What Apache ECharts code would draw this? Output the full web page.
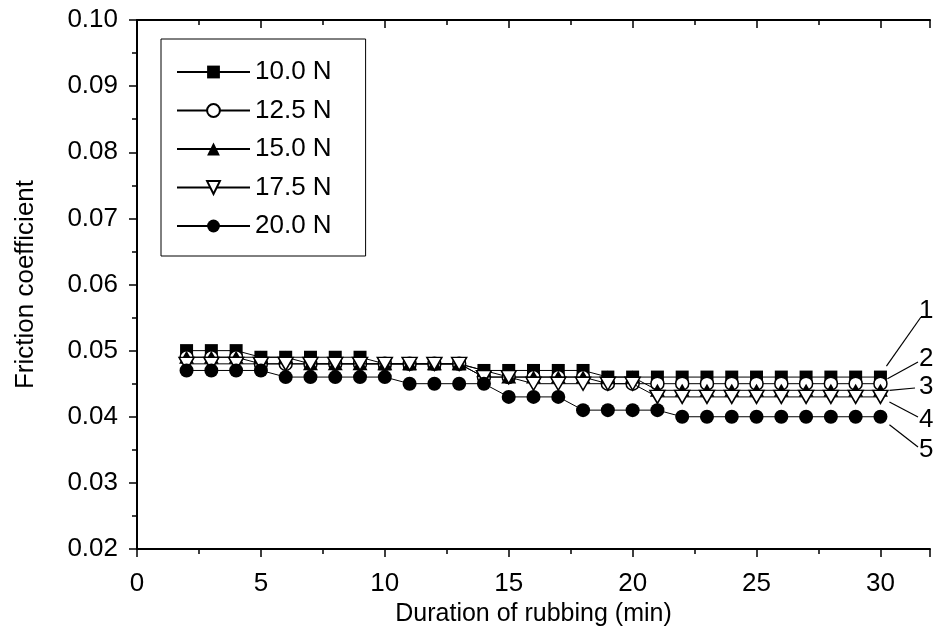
<!DOCTYPE html>
<html><head><meta charset="utf-8">
<script src="https://cdn.jsdelivr.net/npm/echarts@6/dist/echarts.min.js"></script>
<style>html,body{margin:0;padding:0;background:#fff}#c{width:933px;height:643px}</style>
</head><body><div id="c"></div>
<script>
// ---- data ----
const durations = [2,3,4,5,6,7,8,9,10,11,12,13,14,15,16,17,18,19,20,21,22,23,24,25,26,27,28,29,30];
const load10 = [0.050,0.050,0.050,0.049,0.049,0.049,0.049,0.049,0.048,0.048,0.048,0.048,0.047,0.047,0.047,0.047,0.047,0.046,0.046,0.046,0.046,0.046,0.046,0.046,0.046,0.046,0.046,0.046,0.046];
const load125 = [0.049,0.049,0.049,0.048,0.048,0.048,0.048,0.048,0.048,0.048,0.048,0.048,0.046,0.046,0.046,0.046,0.046,0.045,0.045,0.045,0.045,0.045,0.045,0.045,0.045,0.045,0.045,0.045,0.045];
const load15 = [0.049,0.049,0.049,0.049,0.049,0.048,0.048,0.048,0.048,0.048,0.048,0.048,0.047,0.046,0.046,0.046,0.046,0.046,0.046,0.044,0.044,0.044,0.044,0.044,0.044,0.044,0.044,0.044,0.044];
const load175 = [0.048,0.048,0.048,0.048,0.048,0.048,0.048,0.048,0.048,0.048,0.048,0.048,0.046,0.046,0.045,0.045,0.045,0.045,0.045,0.043,0.043,0.043,0.043,0.043,0.043,0.043,0.043,0.043,0.043];
const load20 = [0.047,0.047,0.047,0.047,0.046,0.046,0.046,0.046,0.046,0.045,0.045,0.045,0.045,0.043,0.043,0.043,0.041,0.041,0.041,0.041,0.040,0.040,0.040,0.040,0.040,0.040,0.040,0.040,0.040];
const seriesNames = ['10.0 N','12.5 N','15.0 N','17.5 N','20.0 N'];
const curveLabels = ['1','2','3','4','5'];
const xTicks = [0,5,10,15,20,25,30];
const yTicks = [0.02,0.03,0.04,0.05,0.06,0.07,0.08,0.09,0.10];

const FONT = 'Liberation Sans, Arial, sans-serif';
const allData = [load10, load125, load15, load175, load20];
const downTri = 'path://M0,0L20,0L10,17.3Z';
const styles = [
  {symbol:'rect', size:13, fill:'#000'},
  {symbol:'circle', size:13, fill:'#fff'},
  {symbol:'triangle', size:[15,13], fill:'#000'},
  {symbol:downTri, size:[15,13], fill:'#fff'},
  {symbol:'circle', size:14, fill:'#000'}
];

const chart = echarts.init(document.getElementById('c'), null, {renderer:'canvas'});
const series = allData.map((d,i)=>({
  name: seriesNames[i],
  type:'line',
  xAxisIndex:0, yAxisIndex:0,
  data: d.map((v,k)=>[durations[k], v]),
  symbol: styles[i].symbol,
  symbolSize: styles[i].size,
  showAllSymbol:true,
  itemStyle:{color: styles[i].fill, borderColor:'#000', borderWidth: styles[i].fill==='#fff'?1.5:0},
  lineStyle:{color:'#000', width:1},
  emphasis:{disabled:true},
  animation:false,
  z: 2+i
}));

chart.setOption({
  animation:false,
  backgroundColor:'#fff',
  grid:{left:137, right:0, top:20, bottom:94, containLabel:false},
  legend:{
    left:161, top:39, orient:'vertical',
    itemWidth:73, itemHeight:16, itemGap:12.5,
    padding:[20,34,17,15],
    borderColor:'#000', borderWidth:1,
    textStyle:{fontFamily:FONT, fontSize:26, lineHeight:26, color:'#000'},
    data: seriesNames
  },
  xAxis:[{
    type:'value', min:0, max:32, interval:5, position:'bottom',
    axisLine:{show:true, onZero:false, lineStyle:{color:'#000', width:2}},
    axisTick:{show:true, inside:false, length:8, lineStyle:{color:'#000', width:1.5}},
    minorTick:{show:true, splitNumber:2, length:5, lineStyle:{color:'#000', width:1.5}},
    splitLine:{show:false},
    axisLabel:{fontFamily:FONT, fontSize:26, color:'#000', margin:22,
      formatter:v=> xTicks.includes(v)? String(v):''},
    name:'Duration of rubbing (min)', nameLocation:'middle', nameGap:53,
    nameTextStyle:{fontFamily:FONT, fontSize:25, color:'#000'}
  },{
    type:'value', min:0, max:32, interval:5, position:'top',
    axisLine:{show:true, onZero:false, lineStyle:{color:'#000', width:2}},
    axisTick:{show:true, inside:true, length:8, lineStyle:{color:'#000', width:1.5}},
    minorTick:{show:true, splitNumber:2, length:5, lineStyle:{color:'#000', width:1.5}},
    splitLine:{show:false}, axisLabel:{show:false}
  }],
  yAxis:{
    type:'value', min:0.02, max:0.10, interval:0.01,
    axisLine:{show:true, onZero:false, lineStyle:{color:'#000', width:2}},
    axisTick:{show:true, inside:false, length:8, lineStyle:{color:'#000', width:1.5}},
    minorTick:{show:true, splitNumber:2, length:5, lineStyle:{color:'#000', width:1.5}},
    splitLine:{show:false},
    axisLabel:{fontFamily:FONT, fontSize:26, color:'#000', margin:19,
      formatter:v=>{const t=yTicks.find(y=>Math.abs(y-v)<1e-9); return t!==undefined? t.toFixed(2):'';}},
    name:'Friction coefficient', nameLocation:'middle', nameGap:98,
    nameTextStyle:{fontFamily:FONT, fontSize:26, color:'#000'}
  },
  series: series
});

// leader lines and curve numbers anchored to last data points
const startOff = [[6,-11],[7,-5],[9,0],[9,5],[9,8]];
const endPts = [[921,317],[918,362],[915,388],[918,417],[918,447]];
const textPos = [[919,311],[919,359],[919,387],[919,420],[919,450]];
const g = [];
allData.forEach((d,i)=>{
  const p = chart.convertToPixel({gridIndex:0}, [durations[durations.length-1], d[d.length-1]]);
  g.push({type:'line', shape:{x1:p[0]+startOff[i][0], y1:p[1]+startOff[i][1], x2:endPts[i][0], y2:endPts[i][1]},
    style:{stroke:'#000', lineWidth:1.2}, z:10});
  g.push({type:'text', x:textPos[i][0], y:textPos[i][1],
    style:{text:curveLabels[i], font:'26px '+FONT, fill:'#000', textVerticalAlign:'middle', textAlign:'left'}, z:10});
});
chart.setOption({graphic:g});
</script>
</body></html>
